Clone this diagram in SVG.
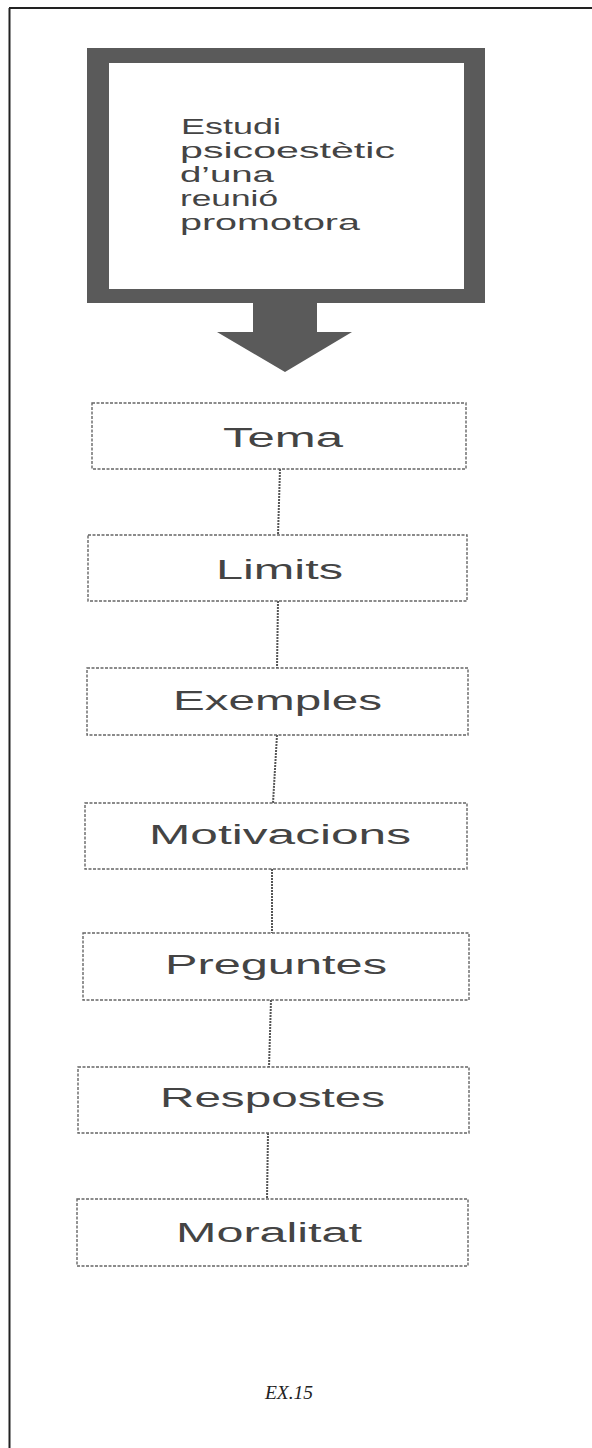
<svg xmlns="http://www.w3.org/2000/svg" width="592" height="1448" viewBox="0 0 592 1448">
<style>
.frame{stroke:#222;stroke-width:2;fill:none}
.node{fill:#fff;stroke:#666;stroke-width:1.4;stroke-dasharray:3 1.5}
.lbl{font-family:"Liberation Sans",Arial,sans-serif;font-size:27px;fill:#444}
.ttl{font-family:"Liberation Sans",Arial,sans-serif;font-size:22px;fill:#444}
.conn{stroke:#555;stroke-width:2;stroke-dasharray:2 1;fill:none}
.cap{font-family:"Liberation Serif","Times New Roman",serif;font-style:italic;font-size:19.5px;fill:#222}
</style>
<rect width="592" height="1448" fill="#fff"/>
<g id="frame">
<line class="frame" x1="9.5" y1="8" x2="9.5" y2="1448"/>
<line class="frame" x1="9" y1="8" x2="592" y2="8"/>
</g>
<g id="title">
<path d="M87,48H485V303H87Z M109,63V289H464V63Z" fill="#5a5a5a" fill-rule="evenodd"/>
<text class="ttl" x="181" y="134" textLength="100" lengthAdjust="spacingAndGlyphs">Estudi</text>
<text class="ttl" x="180" y="158" textLength="215" lengthAdjust="spacingAndGlyphs">psicoestètic</text>
<text class="ttl" x="180" y="182" textLength="94" lengthAdjust="spacingAndGlyphs">d’una</text>
<text class="ttl" x="180" y="206" textLength="98" lengthAdjust="spacingAndGlyphs">reunió</text>
<text class="ttl" x="180" y="230" textLength="180" lengthAdjust="spacingAndGlyphs">promotora</text>
</g>
<g id="arrow">
<path d="M253,303H317V332H352L285,372L217,332H253Z" fill="#5a5a5a"/>
</g>
<g id="connectors">
<line class="conn" x1="280" y1="469" x2="278" y2="535"/>
<line class="conn" x1="278" y1="601" x2="277" y2="668"/>
<line class="conn" x1="277" y1="735" x2="273" y2="803"/>
<line class="conn" x1="272" y1="869" x2="272" y2="933"/>
<line class="conn" x1="271" y1="1000" x2="269" y2="1067"/>
<line class="conn" x1="268" y1="1133" x2="267" y2="1199"/>
</g>
<g id="n-tema">
<rect class="node" x="92" y="403" width="374" height="66"/>
<text class="lbl" x="223" y="447" textLength="120" lengthAdjust="spacingAndGlyphs">Tema</text>
</g>
<g id="n-limits">
<rect class="node" x="88" y="535" width="379" height="66"/>
<text class="lbl" x="216" y="579" textLength="127" lengthAdjust="spacingAndGlyphs">Limits</text>
</g>
<g id="n-exemples">
<rect class="node" x="87" y="668" width="381" height="67"/>
<text class="lbl" x="173" y="710" textLength="209" lengthAdjust="spacingAndGlyphs">Exemples</text>
</g>
<g id="n-motivacions">
<rect class="node" x="85" y="803" width="382" height="66"/>
<text class="lbl" x="149" y="844" textLength="262" lengthAdjust="spacingAndGlyphs">Motivacions</text>
</g>
<g id="n-preguntes">
<rect class="node" x="83" y="933" width="386" height="67"/>
<text class="lbl" x="165" y="974" textLength="222" lengthAdjust="spacingAndGlyphs">Preguntes</text>
</g>
<g id="n-respostes">
<rect class="node" x="78" y="1067" width="391" height="66"/>
<text class="lbl" x="160" y="1107" textLength="225" lengthAdjust="spacingAndGlyphs">Respostes</text>
</g>
<g id="n-moralitat">
<rect class="node" x="77" y="1199" width="391" height="67"/>
<text class="lbl" x="176" y="1242" textLength="186" lengthAdjust="spacingAndGlyphs">Moralitat</text>
</g>
<text class="cap" x="289" y="1399" text-anchor="middle">EX.15</text>
</svg>
